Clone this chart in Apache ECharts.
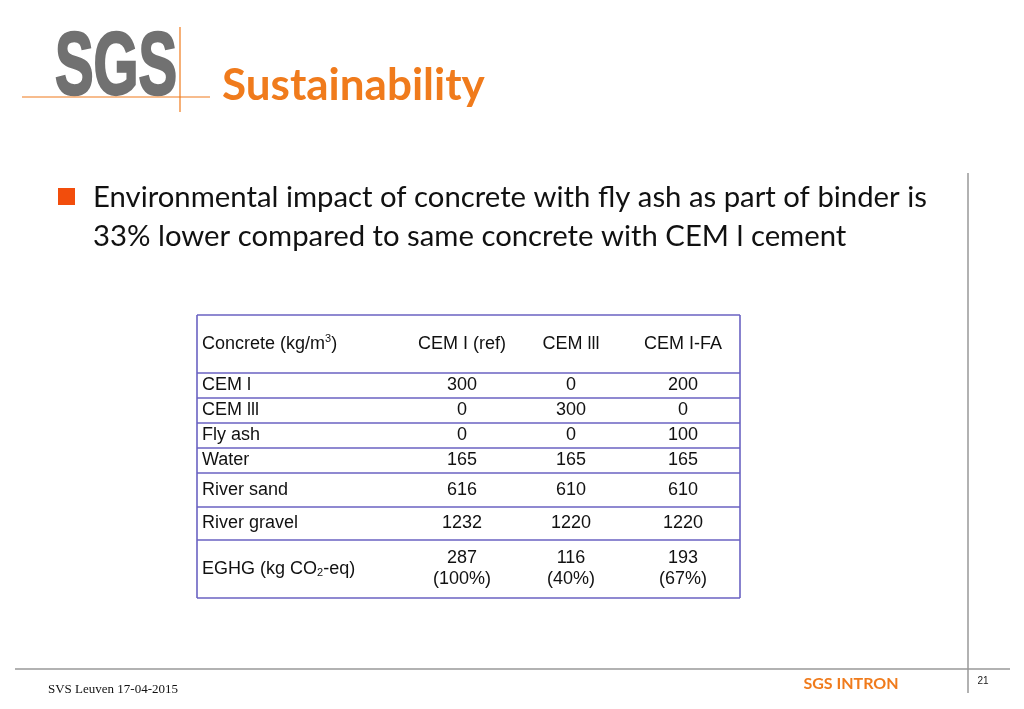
<!DOCTYPE html>
<html><head><meta charset="utf-8">
<script src="https://cdn.jsdelivr.net/npm/echarts@6/dist/echarts.min.js"></script>
<style>html,body{margin:0;padding:0;background:#fff}#c{width:1024px;height:709px}</style>
</head><body><div id="c"></div>
<script>
var columns = ['CEM I (ref)', 'CEM lll', 'CEM I-FA'];
var rowLabels = ['CEM l', 'CEM lll', 'Fly ash', 'Water', 'River sand', 'River gravel', 'EGHG (kg CO{sub|2}-eq)'];
var cemIRef = ['300', '0', '0', '165', '616', '1232', '287\n(100%)'];
var cemIII = ['0', '300', '0', '165', '610', '1220', '116\n(40%)'];
var cemIFA = ['200', '0', '100', '165', '610', '1220', '193\n(67%)'];
var headerLabel = 'Concrete (kg/m{sup|3})';
var title = 'Sustainability';
var bulletLines = ['Environmental impact of concrete with fly ash as part of binder is', '33% lower compared to same concrete with CEM l cement'];

var chart = echarts.init(document.getElementById('c'), null, {renderer: 'canvas'});
var orange = '#f07b1c';
var lineCol = '#6a62c2';
var tX = 197, tR = 740, tY = 315;
var rowH = [58, 25, 25, 25, 25, 34, 33, 58];
var colX = [462, 571, 683];
var font = '"Liberation Sans", Arial, sans-serif';
var els = [];

// logo
els.push({type:'text', x:55, y:69, scaleX:0.65, scaleY:1, style:{text:'SGS', fill:'#717171', stroke:'#717171', lineWidth:2.5, font:'bold 89px "Liberation Sans", sans-serif', verticalAlign:'middle'}});
els.push({type:'line', shape:{x1:22,y1:97,x2:210,y2:97}, style:{stroke:orange, lineWidth:1.2}});
els.push({type:'line', shape:{x1:180,y1:27,x2:180,y2:112}, style:{stroke:orange, lineWidth:1.2}});
els.push({type:'text', x:222, y:86, style:{text:title, fill:orange, font:'bold 44px Lato, sans-serif', verticalAlign:'middle'}});

// bullet
els.push({type:'rect', shape:{x:58,y:188,width:17,height:17}, style:{fill:'#f24d0c'}});
els.push({type:'text', x:93, y:198, style:{text:bulletLines[0], fill:'#111', font:'29.3px Lato, sans-serif', verticalAlign:'middle'}});
els.push({type:'text', x:93, y:237, style:{text:bulletLines[1], fill:'#111', font:'29.3px Lato, sans-serif', verticalAlign:'middle'}});

// slide frame lines
els.push({type:'line', shape:{x1:968,y1:173,x2:968,y2:693}, style:{stroke:'#999', lineWidth:1.5}});
els.push({type:'line', shape:{x1:15,y1:669,x2:1010,y2:669}, style:{stroke:'#999', lineWidth:1.5}});
els.push({type:'text', x:983, y:681, style:{text:'21', fill:'#222', font:'10px "Liberation Sans", sans-serif', align:'center', verticalAlign:'middle'}});
els.push({type:'text', x:851, y:684, style:{text:'SGS INTRON', fill:orange, font:'bold 16px Lato, sans-serif', align:'center', verticalAlign:'middle'}});
els.push({type:'text', x:48, y:690, style:{text:'SVS Leuven 17-04-2015', fill:'#111', font:'13px "Liberation Serif", serif', verticalAlign:'middle'}});

// table
var rich = {sup:{fontSize:11, verticalAlign:'top', padding:[0,0,6,0], fontFamily:font, fill:'#111'}, sub:{fontSize:11, padding:[8,0,0,0], fontFamily:font, fill:'#111'}};
var y = tY;
var ys = [y];
rowH.forEach(function(h){ y += h; ys.push(y); });
var tB = ys[ys.length-1];
ys.forEach(function(yy){ els.push({type:'line', shape:{x1:tX,y1:yy,x2:tR,y2:yy}, style:{stroke:lineCol, lineWidth:1.6}}); });
els.push({type:'line', shape:{x1:tX,y1:tY,x2:tX,y2:tB}, style:{stroke:lineCol, lineWidth:1.6}});
els.push({type:'line', shape:{x1:tR,y1:tY,x2:tR,y2:tB}, style:{stroke:lineCol, lineWidth:1.6}});

function cellText(x, cy, txt, align){
  els.push({type:'text', x:x, y:cy, style:{text:txt, fill:'#111', fontSize:18, fontFamily:font, align:align, verticalAlign:'middle', lineHeight:21, rich:rich}});
}
var hc = (ys[0]+ys[1])/2;
cellText(202, hc, headerLabel, 'left');
columns.forEach(function(c,i){ cellText(colX[i], hc, c, 'center'); });
var cols = [cemIRef, cemIII, cemIFA];
rowLabels.forEach(function(lab, r){
  var cy = (ys[r+1]+ys[r+2])/2;
  cellText(202, cy, lab, 'left');
  cols.forEach(function(arr, i){ cellText(colX[i], cy, arr[r], 'center'); });
});

chart.setOption({animation:false, graphic:{elements:els}});
</script></body></html>
